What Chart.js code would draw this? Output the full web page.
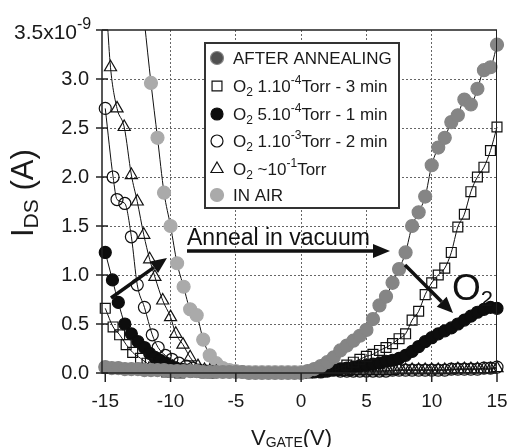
<!DOCTYPE html>
<html>
<head>
<meta charset="utf-8">
<script src="https://cdn.jsdelivr.net/npm/chart.js@4.4.0/dist/chart.umd.min.js"></script>
<style>
  html, body { margin: 0; padding: 0; background: #fff; }
</style>
</head>
<body>
<canvas id="chart" width="509" height="447"></canvas>
<script>
// ---------- DATA (current in units of 1e-9 A) ----------
const xTicks = [-15, -10, -5, 0, 5, 10, 15];
const yTicks = [0, 0.5, 1.0, 1.5, 2.0, 2.5, 3.0, 3.5];

const seriesNames = [
  "AFTER ANNEALING",
  "O_{2} 1.10^{-4}Torr - 3 min",
  "O_{2} 5.10^{-4}Torr - 1 min",
  "O_{2} 1.10^{-3}Torr - 2 min",
  "O_{2} ~10^{-1}Torr",
  "IN AIR"
];

const vAfter = [-15,-14.5,-14,-13.5,-13,-12.5,-12,-11.5,-11,-10.5,-10,-9.5,-9,-8.5,-8,-7.5,-7,-6.5,-6,-5.5,-5,-4.5,-4,-3.5,-3,-2.5,-2,-1.5,-1,-0.5,0,
  0.5,1,1.5,2,2.5,3,3.5,4,4.5,5,5.5,6,6.5,7,7.5,8,8.5,9,9.5,10,10.5,11,11.5,12,12.5,13,13.5,14,14.5,15];
const iAfter = [0.06,0.05,0.05,0.04,0.04,0.04,0.03,0.03,0.03,0.03,0.02,0.02,0.02,0.02,0.02,0.01,0.01,0.01,0.01,0.01,0.01,0.01,0,0,0,0,0,0,0,0,0,
  0.02,0.04,0.07,0.11,0.16,0.23,0.28,0.33,0.38,0.44,0.55,0.69,0.78,0.92,1.06,1.23,1.50,1.64,1.80,2.12,2.30,2.40,2.56,2.63,2.79,2.74,2.90,3.09,3.12,3.35];

const vSq = [-15,-14.4,-13.9,-13.4,-12.9,-12.3,-11.8,-11.3,-10.8,-10.3,-9.8,-9.3, -5,
  0,0.5,1,1.5,2,2.5,3,3.5,4,4.5,5,5.5,6,6.5,7,7.5,8,8.5,9,9.5,10,10.5,11,11.5,12,12.5,13,13.5,14,14.5,15];
const iSq = [0.66,0.47,0.39,0.29,0.21,0.15,0.10,0.06,0.03,0.01,0.01,0.0, null,
  0,0,0.01,0.01,0.02,0.03,0.05,0.08,0.11,0.14,0.17,0.19,0.23,0.26,0.30,0.35,0.40,0.54,0.63,0.80,0.92,1.00,1.07,1.23,1.49,1.62,1.85,2.00,2.10,2.27,2.51];

const vBlack = [-15,-14.45,-14,-13.5,-13,-12.5,-12,-11.6,-11.2,-10.8,-10.4,-10,-9.6,-9.2,-8.8,-8.4,-8,-7.6,-7.2,-6.8, -3,
  1,1.5,2,2.5,3,3.5,4,4.5,5,5.5,6,6.5,7,7.5,8,8.5,9,9.5,10,10.5,11,11.5,12,12.5,13,13.5,14,14.5,15];
const iBlack = [1.23,0.95,0.72,0.50,0.40,0.32,0.26,0.20,0.16,0.13,0.10,0.07,0.05,0.04,0.03,0.02,0.02,0.01,0.01,0.01, null,
  0.01,0.01,0.02,0.03,0.04,0.05,0.06,0.07,0.08,0.09,0.10,0.12,0.13,0.15,0.18,0.22,0.27,0.32,0.36,0.40,0.43,0.46,0.50,0.54,0.58,0.62,0.65,0.67,0.66];

const vOpen = [-15,-14.4,-14.1,-13.5,-13,-12.55,-12,-11.4,-10.95,-10.4,-9.9,-9.35,-8.8,-8.3,-7.8,-7.3,-6.8, -2,
  3,3.5,4,4.5,5,5.5,6,6.5,7,7.5,8,8.5,9,9.5,10,10.5,11,11.5,12,12.5,13,13.5,14,14.5,15];
const iOpen = [2.70,2.00,1.77,1.73,1.39,0.90,0.67,0.39,0.26,0.18,0.14,0.10,0.07,0.05,0.03,0.02,0.01, null,
  0.02,0.02,0.02,0.02,0.02,0.02,0.02,0.02,0.03,0.03,0.03,0.03,0.03,0.03,0.03,0.03,0.03,0.04,0.04,0.04,0.04,0.04,0.05,0.05,0.06];

const vTri = [-14.85,-14.6,-14.1,-13.55,-13,-12.55,-12.05,-11.6,-11.2,-10.6,-10,-9.6,-9.05,-8.5,-7.9,-7.4,-7,-6.5, -2,
  2,2.5,3,3.5,4,4.5,5,5.5,6,6.5,7,7.5,8,8.5,9,9.5,10,10.5,11,11.5,12,12.5,13,13.5,14,14.5,15];
const iTri = [3.60,3.12,2.70,2.51,2.02,1.75,1.41,1.16,0.98,0.74,0.57,0.40,0.29,0.16,0.07,0.03,0.02,0.01, null,
  0.01,0.01,0.01,0.01,0.02,0.02,0.02,0.02,0.02,0.02,0.02,0.03,0.03,0.03,0.03,0.03,0.03,0.03,0.03,0.03,0.04,0.04,0.04,0.04,0.04,0.04,0.05];

const vAir = [-12,-11.5,-11,-10.5,-10,-9.5,-9,-8.5,-8,-7.5,-7,-6.5,-6,-5.5,-5,-4.5,-4,-3.5,-3,-2.5,-2,-1.5,-1,-0.5,0];
const iAir = [3.58,2.96,2.40,1.84,1.50,1.12,0.88,0.65,0.59,0.34,0.18,0.10,0.05,0.03,0.02,0.01,0.01,0.01,0.01,0.01,0.01,0.01,0.01,0.01,0.01];

// ---------- HELPERS ----------
const FONT = '"Liberation Sans", Arial, sans-serif';

function pts(vs, is) {
  return vs.map((v, k) => ({ x: v, y: is[k] }));
}

// draws "A_{sub}B^{sup}" style text, returns end x
function richText(ctx, x, y, str, size, small, subDy, supDy) {
  let parts = str.split(/([_^]\{[^}]*\})/).filter(s => s !== "");
  parts.forEach(p => {
    let s = p, sz = size, dy = 0;
    if (p[0] === "_") { s = p.slice(2, -1); sz = small; dy = subDy; }
    else if (p[0] === "^") { s = p.slice(2, -1); sz = small; dy = supDy; }
    ctx.font = sz + "px " + FONT;
    ctx.fillText(s, x, y + dy);
    x += ctx.measureText(s).width;
  });
  return x;
}

function arrow(ctx, x1, y1, x2, y2, w, head, half) {
  let a = Math.atan2(y2 - y1, x2 - x1);
  let bx = x2 - Math.cos(a) * head, by = y2 - Math.sin(a) * head;
  ctx.lineWidth = w;
  ctx.beginPath(); ctx.moveTo(x1, y1); ctx.lineTo(bx, by); ctx.stroke();
  ctx.beginPath();
  ctx.moveTo(x2, y2);
  ctx.lineTo(bx + Math.sin(a) * half, by - Math.cos(a) * half);
  ctx.lineTo(bx - Math.sin(a) * half, by + Math.cos(a) * half);
  ctx.closePath(); ctx.fill();
}

// grid colour: hide the lines that sit on the frame
function gridColor(lo, hi) {
  return c => (c.tick && (c.tick.value <= lo || c.tick.value >= hi)) ? "rgba(0,0,0,0)" : "#666666";
}

// ---------- PLUGINS ----------
const frame = {
  id: "frame",
  afterDatasetsDraw(chart) {
    const { ctx, chartArea: a, scales: { x, y } } = chart;
    ctx.save();
    ctx.strokeStyle = "#222";
    ctx.lineWidth = 1.5;
    ctx.beginPath();
    ctx.moveTo(a.left, a.top); ctx.lineTo(a.right, a.top);
    ctx.moveTo(a.left, a.top); ctx.lineTo(a.left, a.bottom); ctx.lineTo(a.right, a.bottom);
    ctx.stroke();
    ctx.lineWidth = 1;
    ctx.beginPath(); ctx.moveTo(a.right - 0.5, a.top); ctx.lineTo(a.right - 0.5, a.bottom); ctx.stroke();
    // tick marks
    ctx.lineWidth = 1.5;
    yTicks.forEach(v => {
      let py = y.getPixelForValue(v);
      ctx.beginPath(); ctx.moveTo(a.left - 6, py); ctx.lineTo(a.left + 6, py); ctx.stroke();
    });
    xTicks.forEach(v => {
      let px = x.getPixelForValue(v);
      ctx.beginPath(); ctx.moveTo(px, a.bottom); ctx.lineTo(px, a.bottom + 9); ctx.stroke();
    });
    ctx.restore();
  },
  afterDraw(chart) {
    const { ctx, scales: { y } } = chart;
    const metas = chart.data.datasets;
    ctx.save();
    ctx.fillStyle = "#1a1a1a";
    ctx.textBaseline = "alphabetic";

    // top tick label 3.5x10^-9
    ctx.font = "21px " + FONT;
    let top = y.getPixelForValue(3.5);
    let w = ctx.measureText("3.5x10").width;
    richText(ctx, 77 - w, top + 9, "3.5x10^{-9}", 21, 16, 0, -10);

    // axis titles
    ctx.save();
    ctx.translate(33, 237);
    ctx.rotate(-Math.PI / 2);
    richText(ctx, 0, 0, "I_{DS} (A)", 31, 21, 5, 0);
    ctx.restore();
    richText(ctx, 251, 445, "V_{GATE}(V)", 22, 14, 2, 0);

    // legend
    ctx.fillStyle = "#fff";
    ctx.fillRect(205, 43, 194, 165);
    ctx.strokeStyle = "#333";
    ctx.lineWidth = 2;
    ctx.strokeRect(205, 43, 194, 165);
    const rows = [58, 86, 114, 141, 169, 195];
    metas.forEach((d, k) => {
      ctx.save();
      ctx.fillStyle = d.legendColor || d.pointBackgroundColor;
      ctx.strokeStyle = d.pointBorderColor;
      ctx.lineWidth = d.pointBorderWidth;
      Chart.helpers.drawPoint(ctx, { pointStyle: d.pointStyle, radius: d.pointRadius, rotation: 0, borderWidth: d.pointBorderWidth }, 217, rows[k]);
      ctx.restore();
      ctx.fillStyle = "#1a1a1a";
      richText(ctx, 233, rows[k] + 6, seriesNames[k], 17, 12, 4, -8);
    });

    // annotations
    ctx.fillStyle = "#111";
    ctx.strokeStyle = "#111";
    ctx.font = "23px " + FONT;
    ctx.fillText("Anneal in vacuum", 187, 245);
    arrow(ctx, 187, 251, 390, 251, 3.5, 17, 7);
    arrow(ctx, 111, 298, 167, 258, 3.5, 16, 7);
    arrow(ctx, 405, 265, 453, 313, 3.5, 16, 7);
    richText(ctx, 452, 300, "O_{2}", 37, 22, 6, 0);
    ctx.restore();
  }
};

// ---------- CHART ----------
function ds(label, data, style, radius, fill, border, legendColor) {
  return {
    label: label,
    data: data,
    showLine: true,
    borderColor: "#111",
    borderWidth: 1,
    cubicInterpolationMode: "monotone",
    spanGaps: false,
    pointStyle: style,
    pointRadius: radius,
    pointBackgroundColor: fill,
    pointBorderColor: border,
    pointBorderWidth: 1.2,
    legendColor: legendColor,
    clip: { left: 8, top: 0, right: 8, bottom: 8 }
  };
}

const datasets = [
  ds(seriesNames[0], pts(vAfter, iAfter), "circle", 6.5, "#858585", "#858585", "#505050"),
  ds(seriesNames[1], pts(vSq, iSq), "rect", 7, "rgba(255,255,255,0)", "#111"),
  ds(seriesNames[2], pts(vBlack, iBlack), "circle", 6, "#0d0d0d", "#0d0d0d"),
  ds(seriesNames[3], pts(vOpen, iOpen), "circle", 6, "rgba(255,255,255,0)", "#111"),
  ds(seriesNames[4], pts(vTri, iTri), "triangle", 7, "rgba(255,255,255,0)", "#111"),
  ds(seriesNames[5], pts(vAir, iAir), "circle", 6.5, "#aaaaaa", "#aaaaaa")
];

Chart.defaults.font.family = FONT;
Chart.defaults.color = "#1a1a1a";

let chart = new Chart(document.getElementById("chart"), {
  type: "scatter",
  data: { datasets: datasets },
  plugins: [frame],
  options: {
    responsive: false,
    animation: false,
    devicePixelRatio: 1,
    layout: { padding: { top: 30, right: 12, left: 0, bottom: 0 } },
    plugins: { legend: { display: false }, tooltip: { enabled: false } },
    scales: {
      x: {
        type: "linear",
        min: -15.25,
        max: 15,
        afterBuildTicks: s => { s.ticks = xTicks.map(v => ({ value: v })); },
        afterFit: s => { s.height = 74; s.paddingLeft = 0; s.paddingRight = 0; },
        grid: { display: true, drawTicks: false, lineWidth: 1, color: gridColor(-15, 15) },
        border: { display: false, dash: [2, 2] },
        ticks: { font: { size: 19 }, padding: 17, maxRotation: 0, callback: v => String(v) }
      },
      y: {
        type: "linear",
        min: 0,
        max: 3.5,
        afterBuildTicks: s => { s.ticks = yTicks.map(v => ({ value: v })); },
        afterFit: s => { s.width = 102; s.paddingTop = 0; s.paddingBottom = 0; },
        grid: { display: true, drawTicks: false, lineWidth: 1, color: gridColor(0, 3.5) },
        border: { display: false, dash: [2, 2] },
        ticks: { font: { size: 20 }, padding: 13, callback: v => v === 3.5 ? "" : v.toFixed(1) }
      }
    }
  }
});
</script>
</body>
</html>
